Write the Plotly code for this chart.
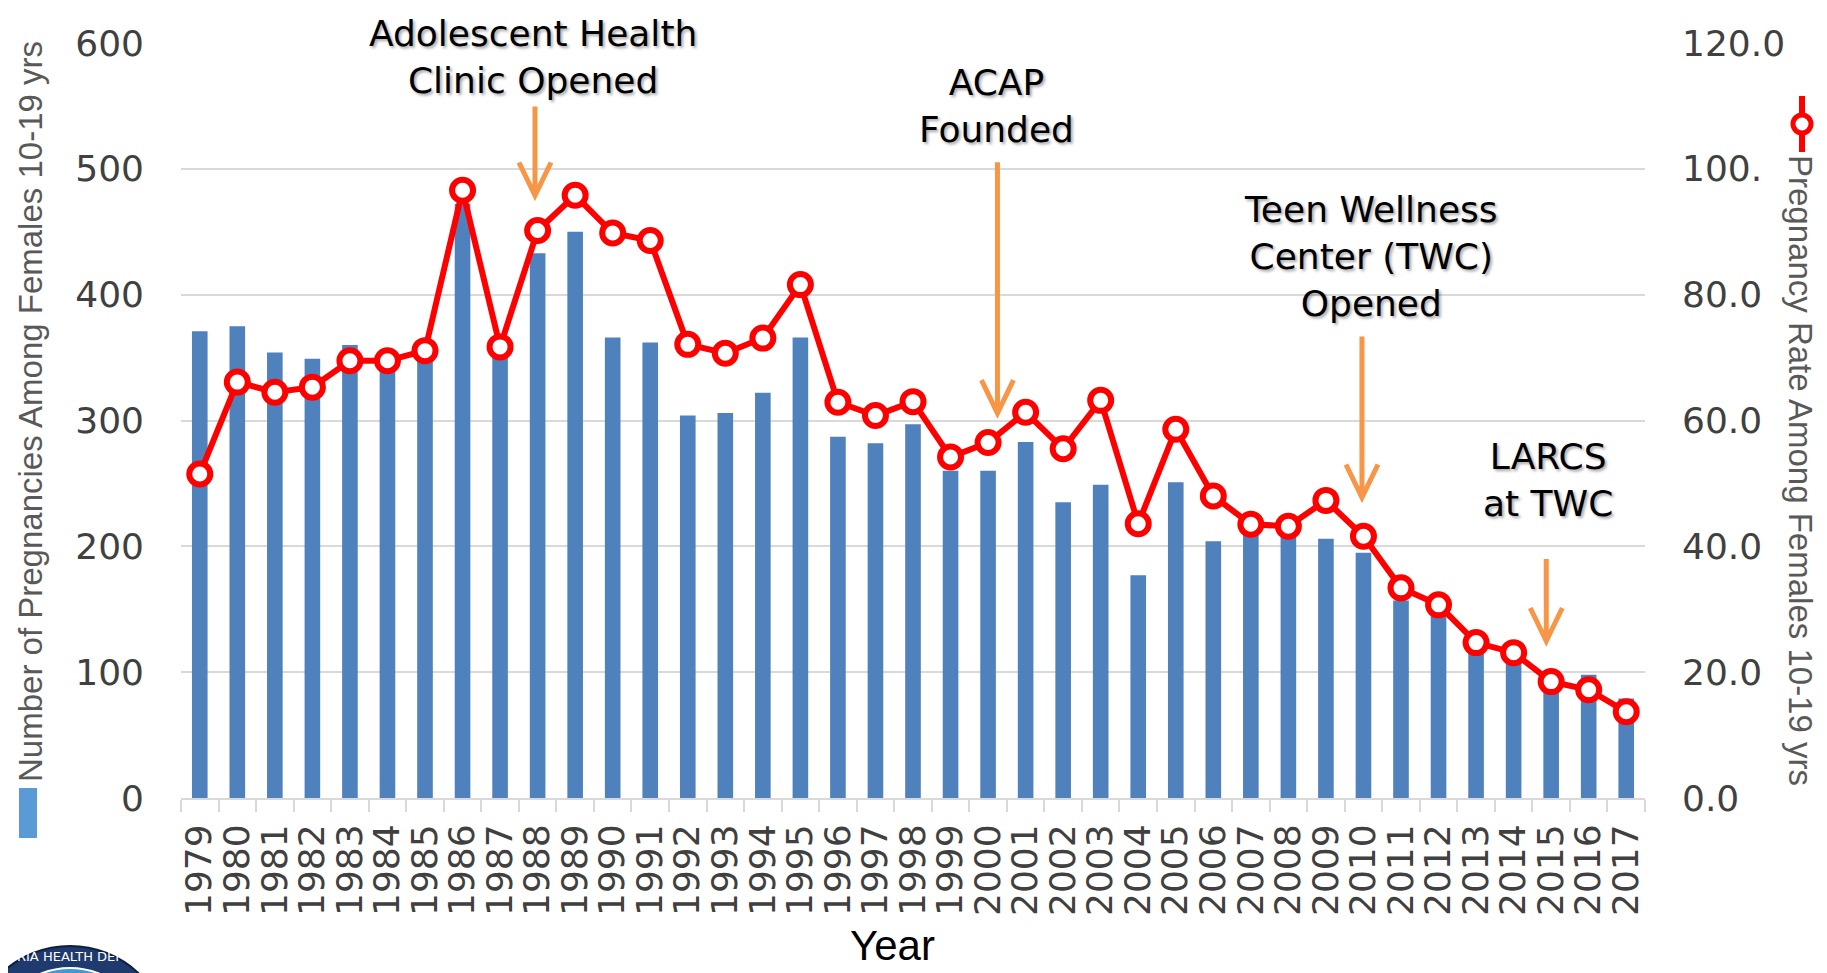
import plotly.graph_objects as go

# ---------------- data ----------------
years = [str(y) for y in range(1979, 2018)]
pregnancies = [371, 375, 354, 349, 360, 343, 352, 472, 352, 433,
               450, 366, 362, 304, 306, 322, 366, 287, 282, 297,
               260, 260, 283, 235, 249, 177, 251, 204, 214, 210,
               206, 195, 157, 147, 117, 109, 84, 98, 79]
rate = [51.5, 66.1, 64.5, 65.3, 69.5, 69.5, 71.1, 96.6, 71.7, 90.2,
        95.8, 89.8, 88.6, 72.1, 70.7, 73.1, 81.6, 62.9, 60.8, 63.0,
        54.2, 56.5, 61.3, 55.5, 63.2, 43.6, 58.6, 48.0, 43.5, 43.2,
        47.3, 41.6, 33.4, 30.7, 24.7, 23.1, 18.5, 17.2, 13.7]

left_tickvals = [0, 100, 200, 300, 400, 500, 600]
right_tickvals = [0, 20, 40, 60, 80, 100, 120]
right_ticktext = ["0.0", "20.0", "40.0", "60.0", "80.0", "100.", "120.0"]

event_text = ["Adolescent Health<br>Clinic Opened", "ACAP<br>Founded",
              "Teen Wellness<br>Center (TWC)<br>Opened", "LARCS<br>at TWC"]
event_x = [8.93, 21.25, 30.96, 35.87]          # category index of arrow
event_tip = [478, 305, 238, 124]               # arrow tip (left-axis units)
event_len = [90, 252, 162, 83]                 # arrow length, px
event_text_xy = [(533, 57), (997, 106), (1371, 256), (1548, 480)]  # page px

# ---------------- layout geometry ----------------
OFF = 8                      # default page (body) margin of the html
W, H = 1827 - OFF, 973 - OFF
L, R, T, B = 181, 1645, 43, 798   # plot-area edges in page pixels


def px_x(p):
    return (p - L) / (R - L)


def px_y(p):
    return (B - p) / (B - T)


BAR = "#4f81bd"
RED = "#ff0000"
ORANGE = "#f79646"
GRID = "#d9d9d9"
TICKFONT = dict(family="DejaVu Sans", size=36, color="#404040")

fig = go.Figure()
fig.add_trace(go.Bar(x=years, y=pregnancies, marker=dict(color=BAR, line=dict(width=0)),
                     name="Number of Pregnancies Among Females 10-19 yrs", yaxis="y"))
fig.add_trace(go.Scatter(x=years, y=rate, mode="lines+markers", yaxis="y2",
                         name="Pregnancy Rate Among Females 10-19 yrs",
                         line=dict(color=RED, width=6),
                         marker=dict(symbol="circle", size=21, color="white",
                                     line=dict(color=RED, width=6))))

annotations = []
shapes = []

# event labels and arrows
for txt, (tx, ty) in zip(event_text, event_text_xy):
    annotations.append(dict(text=txt, xref="paper", yref="paper", x=px_x(tx), y=px_y(ty),
                            xanchor="center", yanchor="middle", showarrow=False, align="center",
                            font=dict(family="DejaVu Sans", size=36, color="black",
                                      shadow="2px 2px 3px rgba(0,0,0,0.35)")))
for ex, tip, ln in zip(event_x, event_tip, event_len):
    shapes.append(dict(type="path", xref="x", yref="y", xsizemode="pixel", ysizemode="pixel",
                       xanchor=ex, yanchor=tip,
                       path=f"M0,{ln} L0,2 M-16,34 L0,1 L16,34",
                       line=dict(color=ORANGE, width=5), fillcolor="rgba(0,0,0,0)", layer="above"))

# axis titles
annotations.append(dict(text="Number of Pregnancies Among Females 10-19 yrs", xref="paper", yref="paper",
                        x=px_x(30), y=px_y(412), textangle=-90, showarrow=False,
                        xanchor="center", yanchor="middle",
                        font=dict(family="Liberation Sans", size=33, color="#595959")))
annotations.append(dict(text="Pregnancy Rate Among Females 10-19 yrs", xref="paper", yref="paper",
                        x=px_x(1801), y=px_y(470), textangle=90, showarrow=False,
                        xanchor="center", yanchor="middle",
                        font=dict(family="Liberation Sans", size=33, color="#595959")))
annotations.append(dict(text="Year", xref="paper", yref="paper", x=px_x(892), y=px_y(945),
                        showarrow=False, xanchor="center", yanchor="middle",
                        font=dict(family="Liberation Sans", size=42, color="black")))

# legend keys beside axis titles
shapes.append(dict(type="rect", xref="paper", yref="paper", x0=px_x(19), x1=px_x(37),
                   y0=px_y(838), y1=px_y(788), fillcolor="#5b9bd5", line=dict(width=0)))
shapes.append(dict(type="line", xref="paper", yref="paper", x0=px_x(1802), x1=px_x(1802),
                   y0=px_y(152), y1=px_y(96), line=dict(color=RED, width=6)))
shapes.append(dict(type="circle", xref="paper", yref="paper", x0=px_x(1793), x1=px_x(1811),
                   y0=px_y(133), y1=px_y(115), fillcolor="white", line=dict(color=RED, width=5)))

# partial logo seal at the bottom-left corner
shapes.append(dict(type="circle", xref="paper", yref="paper", x0=px_x(-30), x1=px_x(170),
                   y0=px_y(1146), y1=px_y(946), fillcolor="#1f3a6e", line=dict(color="#0f1f40", width=2),
                   layer="above"))
shapes.append(dict(type="circle", xref="paper", yref="paper", x0=px_x(-8), x1=px_x(148),
                   y0=px_y(1124), y1=px_y(968), fillcolor="#3d9ad6", line=dict(color="white", width=2),
                   layer="above"))
annotations.append(dict(text="RIA HEALTH DEP", xref="paper", yref="paper", x=px_x(70), y=px_y(957),
                        showarrow=False, xanchor="center", yanchor="middle",
                        font=dict(family="DejaVu Sans", size=13, color="white")))

fig.update_layout(
    width=W, height=H,
    margin=dict(l=L - OFF, r=1827 - R, t=T - OFF, b=973 - B, autoexpand=False),
    paper_bgcolor="white", plot_bgcolor="white",
    showlegend=False, bargap=0.584,
    xaxis=dict(type="category", range=[-0.5, len(years) - 0.5], tickmode="array", tickvals=years,
               tickangle=-90, tickfont=TICKFONT, showline=True,
               linecolor=GRID, linewidth=2, ticks="outside", ticklen=12, tickwidth=2,
               tickcolor=GRID, tickson="boundaries", showgrid=False, ticklabelstandoff=10,
               automargin=False),
    yaxis=dict(range=[0, 600], tickvals=left_tickvals, tickfont=TICKFONT,
               showgrid=True, gridcolor=GRID, gridwidth=2, zeroline=False, showline=False,
               ticks="", ticklabelstandoff=36, automargin=False),
    yaxis2=dict(range=[0, 120], overlaying="y", side="right", tickvals=right_tickvals,
                ticktext=right_ticktext, tickfont=TICKFONT, showgrid=False, zeroline=False,
                showline=False, ticks="", ticklabelstandoff=36, automargin=False),
    annotations=annotations, shapes=shapes,
)

fig.write_html("out.html")
